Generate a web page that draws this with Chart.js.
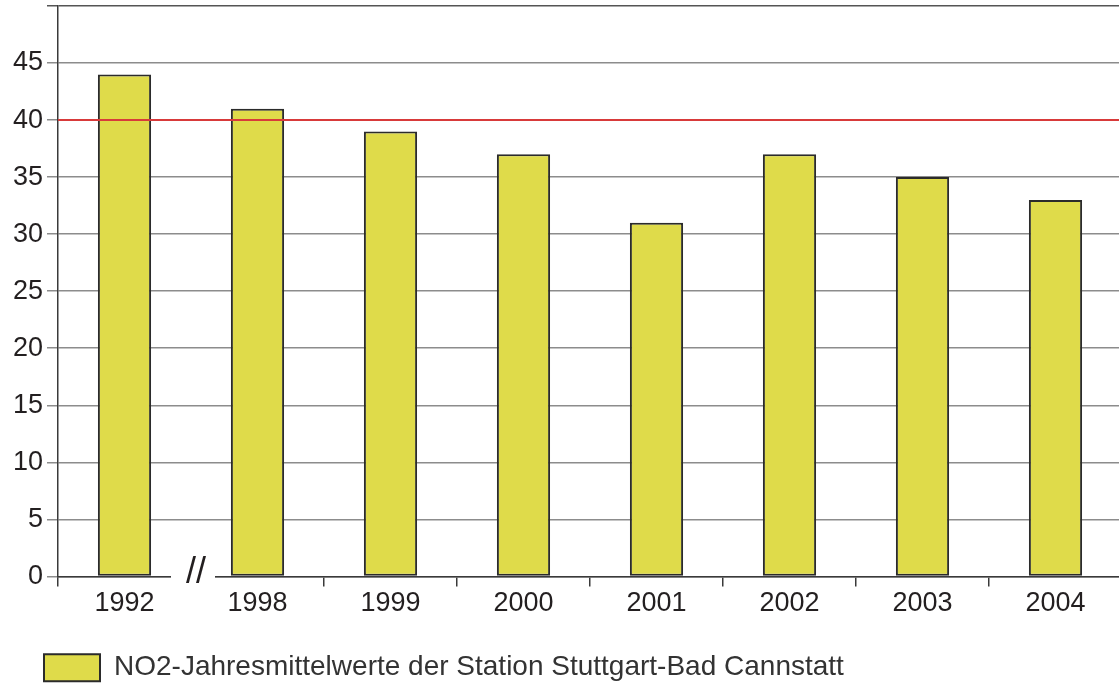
<!DOCTYPE html>
<html>
<head>
<meta charset="utf-8">
<script src="https://cdn.jsdelivr.net/npm/chart.js@4.4.1/dist/chart.umd.min.js"></script>
<style>
  html, body { margin: 0; padding: 0; overflow: hidden; background: #fff; }
  canvas { display: block; }
</style>
</head>
<body>
<canvas id="c" width="1122" height="692" style="width:1122px;height:692px"></canvas>
<script>
// Annual NO2 means, Stuttgart-Bad Cannstatt (µg/m³)
const years = ['1992', '1998', '1999', '2000', '2001', '2002', '2003', '2004'];
const no2Means = [44, 41, 39, 37, 31, 37, 35, 33];
const limitValue = 40;
const yMin = 0, yMax = 50, yStep = 5;
const seriesLabel = 'NO2-Jahresmittelwerte der Station Stuttgart-Bad Cannstatt';
const breakMark = '//';

const FONT = '"Liberation Sans", Arial, Helvetica, sans-serif';
const TEXT = '#231f20';
const LEGEND_INDENT = 43;

// Limit line at 40, the axis break between 1992 and 1998, legend indent
const overlays = {
  id: 'overlays',
  afterLayout(chart) {
    if (chart.legend) {
      chart.legend.left += LEGEND_INDENT;
      chart.legend.right += LEGEND_INDENT;
    }
  },
  afterDatasetsDraw(chart) {
    const { ctx, chartArea, scales } = chart;
    const y = scales.y.getPixelForValue(limitValue);
    ctx.save();
    ctx.strokeStyle = '#d83a3a';
    ctx.lineWidth = 2;
    ctx.beginPath();
    ctx.moveTo(chartArea.left, y);
    ctx.lineTo(chartArea.right, y);
    ctx.stroke();
    ctx.restore();
  },
  afterDraw(chart) {
    const { ctx, scales } = chart;
    const x = scales.x;
    const y0 = scales.y.getPixelForValue(0);
    const mid = (x.getPixelForValue(0) + x.getPixelForValue(1)) / 2;
    ctx.save();
    ctx.fillStyle = '#fff';
    ctx.fillRect(mid - 20, y0 - 3, 44, 6);
    ctx.fillStyle = TEXT;
    ctx.font = '36px ' + FONT;
    ctx.textAlign = 'center';
    ctx.textBaseline = 'alphabetic';
    ctx.fillText(breakMark, mid + 5, y0 + 7);
    ctx.restore();
  }
};

new Chart(document.getElementById('c'), {
  type: 'bar',
  data: {
    labels: years,
    datasets: [{
      label: seriesLabel,
      data: no2Means,
      backgroundColor: '#dfdb4a',
      borderColor: '#2b2b2b',
      borderWidth: 2,
      borderSkipped: false,
      barPercentage: 0.4,
      categoryPercentage: 1.0
    }]
  },
  options: {
    responsive: false,
    devicePixelRatio: 1,
    animation: false,
    layout: { autoPadding: false, padding: { top: 6, left: 0, right: 0, bottom: 0.3 } },
    font: { family: FONT },
    scales: {
      x: {
        offset: true,
        border: { display: true, color: '#3a3a3a', width: 1.5 },
        grid: {
          offset: true,
          drawOnChartArea: false,
          drawTicks: true,
          tickLength: 10,
          lineWidth: 1.5,
          color: (c) => (c.index === 1 ? 'rgba(0,0,0,0)' : '#3a3a3a')
        },
        ticks: { color: TEXT, font: { family: FONT, size: 27 }, padding: 1 },
        afterFit(scale) {
          scale.height = 76.3;
          scale.paddingLeft = 0;
          scale.paddingRight = 0;
        }
      },
      y: {
        min: yMin,
        max: yMax,
        border: { display: true, color: '#3a3a3a', width: 1.5 },
        grid: {
          drawTicks: true,
          tickLength: 11,
          lineWidth: 1.5,
          color: (c) => (c.tick && c.tick.value === yMax ? '#555' : '#8c8c8c')
        },
        ticks: {
          stepSize: yStep,
          color: TEXT,
          font: { family: FONT, size: 27 },
          padding: 4,
          callback: (v) => (v === yMax ? '' : v)
        },
        afterFit(scale) {
          scale.width = 58;
          scale.paddingTop = 0;
          scale.paddingBottom = 0;
        }
      }
    },
    plugins: {
      legend: {
        position: 'bottom',
        align: 'start',
        labels: {
          boxWidth: 56,
          boxHeight: 27,
          padding: 1,
          color: '#333',
          font: { family: FONT, size: 28 }
        }
      },
      tooltip: { enabled: false }
    }
  },
  plugins: [overlays]
});
</script>
</body>
</html>
